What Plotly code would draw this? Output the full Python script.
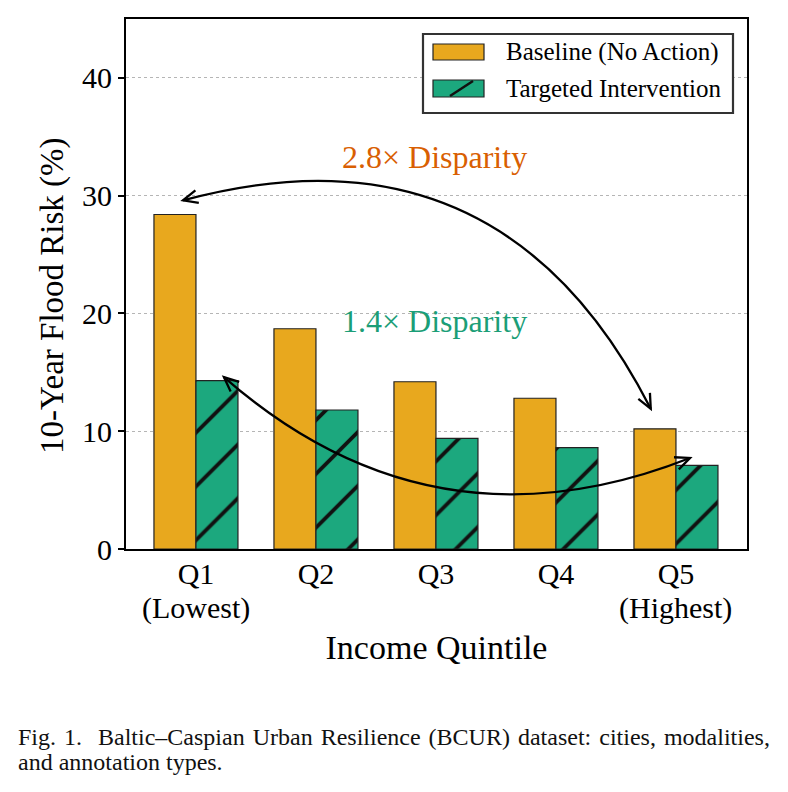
import math
import plotly.graph_objects as go

# ---------------- data ----------------
quintiles = ["Q1", "Q2", "Q3", "Q4", "Q5"]
quintile_notes = ["(Lowest)", "", "", "", "(Highest)"]
baseline = [28.4, 18.7, 14.2, 12.8, 10.2]
intervention = [14.3, 11.8, 9.4, 8.6, 7.1]
series_names = ["Baseline (No Action)", "Targeted Intervention"]
y_ticks = [0, 10, 20, 30, 40]

# ---------------- style ----------------
ORANGE = "#E8A81E"
GREEN = "#1CA87E"
TXT_ORANGE = "#D95F02"
TXT_GREEN = "#1B9E77"
FONT = "Liberation Serif, Times New Roman, serif"

W, H = 788, 792
ML, MR, MT, MB = 126, 41, 19, 243
PW, PH = W - ML - MR, H - MT - MB
XR = [-0.583, 4.592]
YR = [0, 45]
sx = PW / (XR[1] - XR[0])   # px per x unit
sy = PH / (YR[1] - YR[0])   # px per y unit

x = list(range(len(quintiles)))

fig = go.Figure()
fig.add_trace(go.Bar(
    x=x, y=baseline, name=series_names[0],
    marker=dict(color=ORANGE, line=dict(color="#222222", width=1.2)),
    showlegend=False,
))
fig.add_trace(go.Bar(
    x=x, y=intervention, name=series_names[1],
    marker=dict(color=GREEN, line=dict(color="#222222", width=1.2),
                pattern=dict(shape="/", fgcolor="#111111", bgcolor=GREEN,
                             size=38, solidity=0.1, fillmode="replace")),
    showlegend=False,
))

shapes = []
annotations = []


def px(xp):
    return (xp - ML) / PW


def py(yp):
    return (H - MB - yp) / PH


# ---------------- curved double-headed arrows ----------------
def curved_arrow(p0, c, p1, color="black", width=2.3, head=16, ang=24):
    path = f"M {p0[0]},{p0[1]} Q {c[0]},{c[1]} {p1[0]},{p1[1]}"
    shapes.append(dict(type="path", path=path, xref="x", yref="y",
                       line=dict(color=color, width=width)))
    for tip, toward in ((p0, c), (p1, c)):
        dxp = (toward[0] - tip[0]) * sx
        dyp = -(toward[1] - tip[1]) * sy
        n = math.hypot(dxp, dyp)
        ux, uy = dxp / n, dyp / n
        pts = []
        for s in (-1, 1):
            a = math.radians(ang) * s
            rx = ux * math.cos(a) - uy * math.sin(a)
            ry = ux * math.sin(a) + uy * math.cos(a)
            pts.append((tip[0] + rx * head / sx, tip[1] - ry * head / sy))
        p = (f"M {pts[0][0]},{pts[0][1]} L {tip[0]},{tip[1]} "
             f"L {pts[1][0]},{pts[1][1]}")
        shapes.append(dict(type="path", path=p, xref="x", yref="y",
                           line=dict(color=color, width=width)))


# baseline disparity arrow: Q1 baseline top -> Q5 baseline top
curved_arrow((-0.108, 29.6), (2.54, 36.9), (3.79, 11.9))
# intervention disparity arrow: Q1 intervention top -> Q5 intervention top
curved_arrow((0.233, 14.6), (1.97, -0.9), (4.117, 7.73))

annotations.append(dict(x=1.99, y=33.3, xref="x", yref="y", showarrow=False,
                        text="2.8× Disparity",
                        font=dict(family=FONT, size=32, color=TXT_ORANGE)))
annotations.append(dict(x=1.99, y=19.4, xref="x", yref="y", showarrow=False,
                        text="1.4× Disparity",
                        font=dict(family=FONT, size=32, color=TXT_GREEN)))

# second line of the category labels
for xi, note in zip(x, quintile_notes):
    if note:
        annotations.append(dict(x=xi, y=py(608), xref="x", yref="paper",
                                xanchor="center", yanchor="middle",
                                showarrow=False, text=note,
                                font=dict(family=FONT, size=30, color="black")))

# y-axis title
annotations.append(dict(x=px(52), y=py(296), xref="paper", yref="paper",
                        xanchor="center", yanchor="middle",
                        textangle=-90, showarrow=False,
                        text="10-Year Flood Risk (%)",
                        font=dict(family=FONT, size=33, color="black")))

# ---------------- manual legend ----------------
shapes.append(dict(type="rect", xref="paper", yref="paper",
                   x0=px(423), x1=px(733), y0=py(113), y1=py(34),
                   line=dict(color="#333333", width=2.2), fillcolor="white",
                   layer="above"))
shapes.append(dict(type="rect", xref="paper", yref="paper",
                   x0=px(433), x1=px(484), y0=py(60), y1=py(44),
                   line=dict(color="#222222", width=1.2), fillcolor=ORANGE,
                   layer="above"))
shapes.append(dict(type="rect", xref="paper", yref="paper",
                   x0=px(433), x1=px(484), y0=py(97), y1=py(80),
                   line=dict(color="#222222", width=1.2), fillcolor=GREEN,
                   layer="above"))
shapes.append(dict(type="line", xref="paper", yref="paper",
                   x0=px(450), x1=px(473), y0=py(96), y1=py(81),
                   line=dict(color="#111111", width=2.5), layer="above"))
for name, yc in zip(series_names, (52, 89)):
    annotations.append(dict(x=px(504), y=py(yc), xref="paper", yref="paper",
                            xanchor="left", yanchor="middle", showarrow=False,
                            text=name,
                            font=dict(family=FONT, size=25, color="black")))

# ---------------- caption ----------------
HS = "\u200a"  # hair space to emulate justified text
caption_lines = [
    ("Fig. 1.  Baltic–Caspian Urban Resilience (BCUR) dataset: cities, modalities,"
     ).replace(" ", " " + HS),
    "and annotation types.",
]
for line, yc in zip(caption_lines, (737, 762)):
    annotations.append(dict(
        x=px(16), y=py(yc), xref="paper", yref="paper",
        xanchor="left", yanchor="middle", align="left", showarrow=False,
        text=line, font=dict(family=FONT, size=24, color="#111111")))

fig.update_layout(
    width=W, height=H,
    margin=dict(l=ML, r=MR, t=MT, b=MB, autoexpand=False),
    paper_bgcolor="white", plot_bgcolor="white",
    barmode="group", bargap=0.3, bargroupgap=0,
    font=dict(family=FONT, color="black"),
    shapes=shapes, annotations=annotations,
)
fig.update_xaxes(
    range=XR, tickvals=x, ticktext=quintiles, ticks="",
    tickfont=dict(family=FONT, size=30), ticklabelstandoff=-3,
    showline=True, linecolor="black", linewidth=2, mirror=True,
    showgrid=False, zeroline=False,
    title=dict(text="Income Quintile", font=dict(family=FONT, size=34), standoff=46),
)
fig.update_yaxes(
    range=YR, tickvals=y_ticks, ticks="outside", ticklen=6, tickwidth=2,
    tickcolor="black", tickfont=dict(family=FONT, size=30),
    showline=True, linecolor="black", linewidth=2, mirror=True,
    showgrid=True, gridcolor="#b5b5b5", griddash="dot", gridwidth=1,
    zeroline=False,
)

fig.write_html("out.html")
